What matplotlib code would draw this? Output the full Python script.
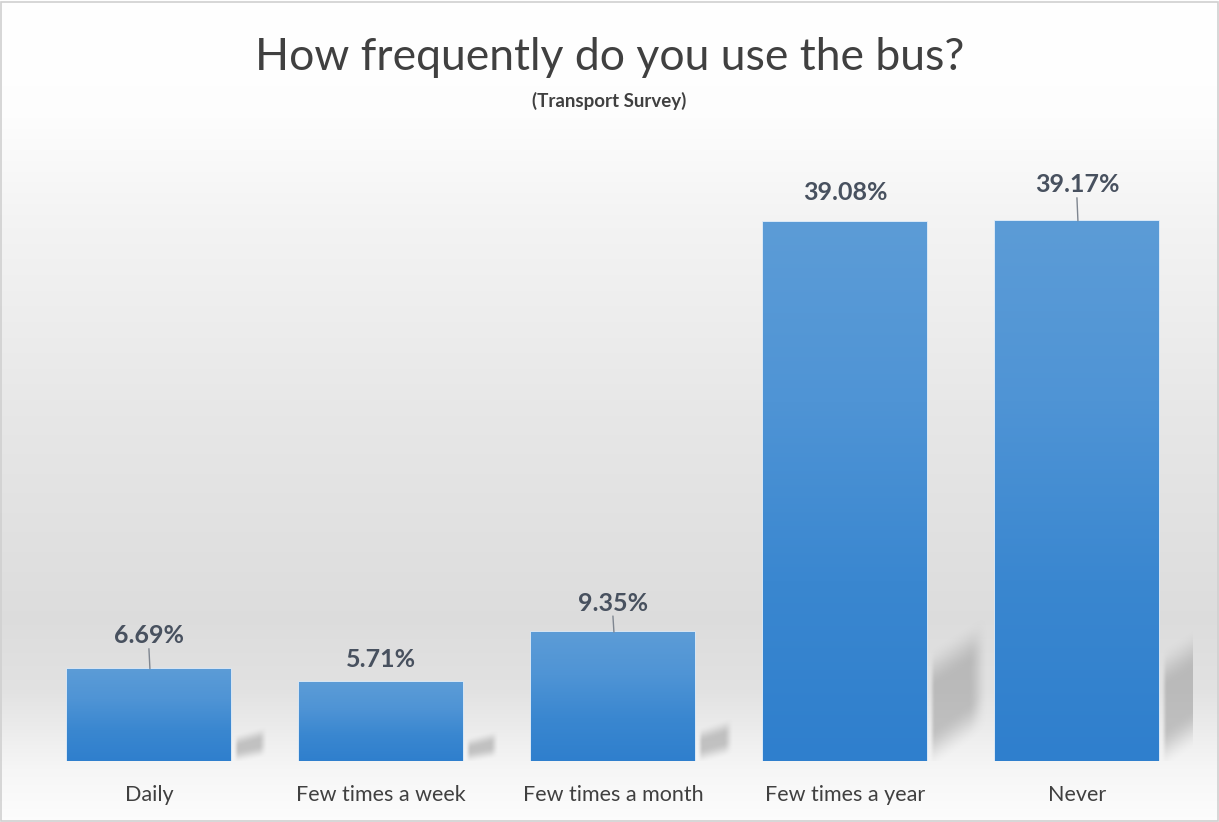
import numpy as np
import matplotlib
matplotlib.use("Agg")
import matplotlib.pyplot as plt
from matplotlib.patches import Rectangle
from matplotlib.colors import LinearSegmentedColormap

# ---------------- data ----------------
categories = ["Daily", "Few times a week", "Few times a month", "Few times a year", "Never"]
values = [6.69, 5.71, 9.35, 39.08, 39.17]
value_labels = ["6.69%", "5.71%", "9.35%", "39.08%", "39.17%"]
title = "How frequently do you use the bus?"
subtitle = "(Transport Survey)"

# ---------------- layout / style ----------------
label_offsets_px = [33, 23, 29, 30, 36]        # label centre above bar top
has_leader = [True, False, True, False, True]
FONT = ["Lato", "DejaVu Sans"]

W, H = 1219, 822
fig = plt.figure(figsize=(W / 100, H / 100), dpi=100)

# background gradient (whole figure)
bg = fig.add_axes([0, 0, 1, 1], zorder=-10)
bg.set_axis_off()
yy = np.linspace(0, H, 400)
stop_y = [0, 110, 220, 420, 620, 690, 770, 822]
stop_v = [1.0, 0.995, 0.955, 0.905, 0.865, 0.885, 0.965, 0.99]
v = np.interp(yy, stop_y, stop_v)
img = np.repeat(v[:, None], 2, axis=1)
img = np.dstack([img, img, img])
bg.imshow(img, extent=[0, 1, 0, 1], aspect="auto", origin="upper")
bg.set_xlim(0, 1)
bg.set_ylim(0, 1)
bg.add_patch(Rectangle((0.001, 0.001), 0.998, 0.997, fill=False,
                       edgecolor="#d0d0d0", linewidth=1.2))

# main axes
base_px = 761
px_per_unit_y = 539 / 39.08
ymax = 45
ax_h = ymax * px_per_unit_y
ax = fig.add_axes([33 / W, (H - base_px) / H, 1160 / W, ax_h / H])
ax.set_facecolor("none")
ax.patch.set_alpha(0)
for s in ax.spines.values():
    s.set_visible(False)

x = np.arange(len(categories))
bar_w = 164 / 232
px_per_unit_x = 232

bars = ax.bar(x, values, width=bar_w, color="#4a8fd6", edgecolor="#d4e6f7",
              linewidth=1.2, zorder=3)

cmap_bar = LinearSegmentedColormap.from_list(
    "bar", ["#5c9cd7", "#4f94d5", "#3a87d0", "#2f7fcd"])
grad = np.linspace(0, 1, 256)[:, None]


def smooth(t):
    t = np.clip(t, 0, 1)
    return t * t * (3 - 2 * t)


for b in bars:
    x0 = b.get_x()
    x1 = x0 + b.get_width()
    h = b.get_height()
    im = ax.imshow(grad, extent=[x0, x1, 0, h], aspect="auto", cmap=cmap_bar,
                   origin="upper", zorder=3.5, interpolation="bicubic")
    im.set_clip_path(b)

    # soft perspective shadow to the right of the bar (pixel units)
    hp = h * px_per_unit_y
    dxp = 32 + 0.055 * hp
    top_l, top_r = 0.17 * hp + 6, 0.235 * hp + 10
    bot_l, bot_r = 0.0, 0.08 * hp
    soft = 8 + 0.06 * hp
    gx = np.arange(0, dxp + 1, 1.0)
    gy = np.arange(-4, top_r + soft, 1.0)
    GX, GY = np.meshgrid(gx, gy)
    f = GX / dxp
    top = top_l + (top_r - top_l) * f
    bot = bot_l + (bot_r - bot_l) * f
    a = (smooth((GY - bot + 0.3 * soft) / soft) * smooth((top - GY + 0.3 * soft) / soft)
         * smooth((GX - 2) / 6) * smooth((dxp - GX) / (0.4 * soft + 4)))
    rgba = np.zeros(a.shape + (4,))
    rgba[..., :3] = 0.58
    rgba[..., 3] = 0.5 * a
    ax.imshow(rgba, extent=[x1 + gx[0] / px_per_unit_x, x1 + gx[-1] / px_per_unit_x,
                            gy[0] / px_per_unit_y, gy[-1] / px_per_unit_y],
              aspect="auto", origin="lower", zorder=2, interpolation="bilinear")

# value labels with leader lines
for i, (b, lab) in enumerate(zip(bars, value_labels)):
    cx = b.get_x() + b.get_width() / 2
    h = b.get_height()
    off = label_offsets_px[i]
    ax.annotate(lab, (cx, h), xytext=(0, off), textcoords="offset pixels",
                ha="center", va="center", fontsize=18, fontweight="bold",
                color="#48515f", family=FONT, zorder=6)
    if has_leader[i]:
        ax.annotate("", (cx + 0.004, h), xytext=(-1, off - 13),
                    textcoords="offset pixels",
                    arrowprops=dict(arrowstyle="-", color="#7f8690", lw=1.0,
                                    shrinkA=0, shrinkB=0), zorder=6)

ax.set_xlim(-0.5, len(categories) - 0.5)
ax.set_ylim(0, ymax)
ax.set_yticks([])
ax.set_xticks(x)
ax.set_xticklabels(categories, fontsize=15.5, color="#404040", family=FONT)
ax.tick_params(axis="x", length=0, pad=17)

fig.text(0.5, 1 - 57 / H, title, ha="center", va="center", fontsize=32,
         color="#404040", family=FONT)
fig.text(0.5, 1 - 101 / H, subtitle, ha="center", va="center", fontsize=13.5,
         color="#404040", family=FONT, fontweight="bold")

fig.savefig("out.png", dpi=100)
